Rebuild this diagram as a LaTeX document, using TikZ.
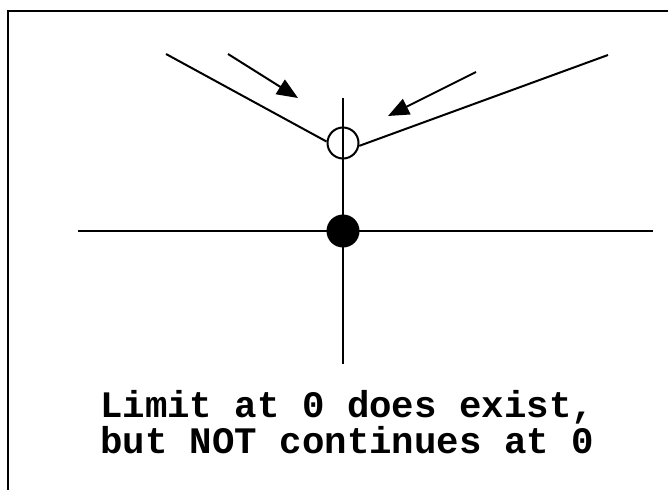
\documentclass[tikz,border=0pt]{standalone}
\usepackage{fontspec}
\newfontfamily\courfont{Liberation Mono}
\usetikzlibrary{arrows.meta}
\tikzset{
  ln/.style={line width=2pt, line cap=butt},
  arr/.style={ln, -{Triangle[length=21pt,width=17pt]}},
  opencirc/.style={circle, draw, line width=2pt, minimum size=31pt, inner sep=0pt, fill=none},
  dotc/.style={circle, fill=black, minimum size=33pt, inner sep=0pt},
  lbl/.style={anchor=base west, inner sep=0pt, font=\courfont\bfseries\fontsize{37.4}{36}\selectfont}
}
\begin{document}
\begin{tikzpicture}[x=1pt,y=-1pt]
\clip (0,0) rectangle (668,489);
\path[use as bounding box] (0,0) rectangle (668,489);
\draw[line width=2pt] (8,11) rectangle (700,520);
% axes
\coordinate (hl) at (78,231);
\coordinate (hr) at (653,231);
\coordinate (vt) at (343,98);
\coordinate (vb) at (343,364);
\draw[ln] (hl) -- (hr);
\draw[ln] (vt) -- (vb);
% points
\node[opencirc] (oc) at (343,143) {};
\node[dotc] (dot) at (343,231) {};
% branches
\coordinate (lb) at (166,54);
\coordinate (rb) at (608,55);
\draw[ln] (lb) -- (oc.175);
\draw[ln] (rb) -- (oc.-10);
% arrows
\coordinate (a1s) at (228,54);
\coordinate (a1e) at (298,98);
\coordinate (a2s) at (476,72);
\coordinate (a2e) at (388,116);
\draw[arr] (a1s) -- (a1e);
\draw[arr] (a2s) -- (a2e);
% text
\node[lbl] (t1) at (100,417) {Limit at 0 does exist,};
\node[lbl] (t2) at (100,453) {but NOT continues at 0};
\end{tikzpicture}
\end{document}
